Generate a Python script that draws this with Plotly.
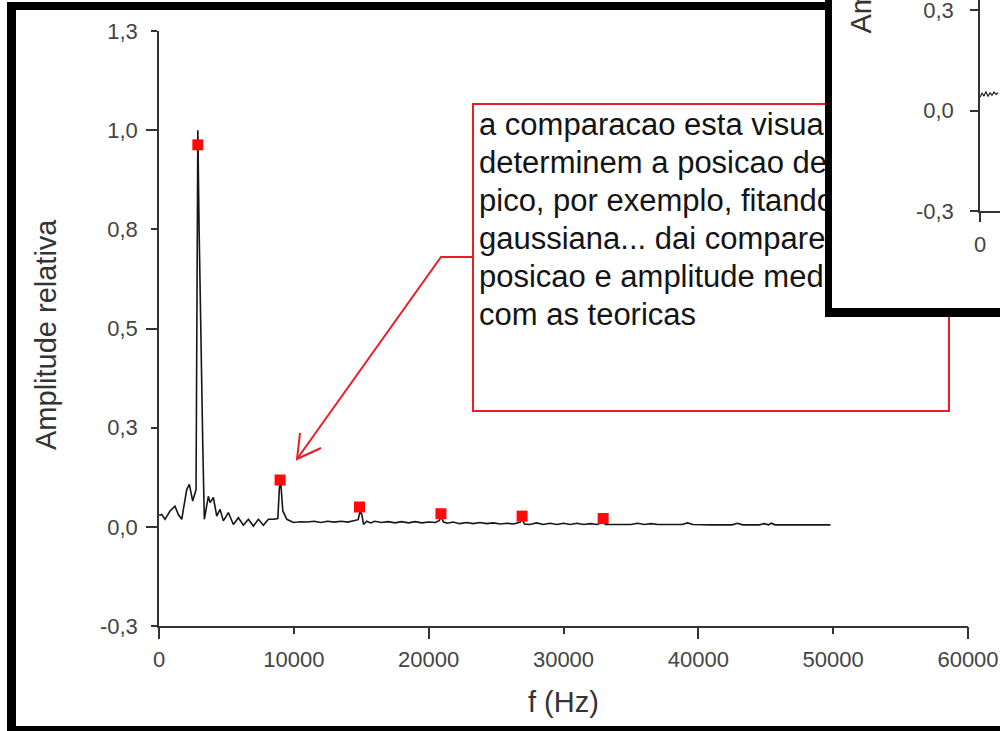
import plotly.graph_objects as go

W, H = 1000, 731

# ---- spectrum (frequency in Hz, relative amplitude) ----
freq_hz = [
    0, 200, 445, 817, 1188, 1433, 1685, 2056, 2250, 2500, 2747,
    2800, 2880, 2970, 3100, 3250, 3363, 3660, 3786, 4031, 4284,
    4529, 4774, 5145, 5516, 5887, 6258, 6630, 7001, 7372, 7743,
    8114, 8485, 8812, 8931, 9035, 9183, 9480, 9970, 10500, 11000,
    11500, 12000, 12500, 13000, 13500, 14000, 14500, 14770, 14920, 15050,
    15170, 15400, 15700, 16000, 16500, 17000, 17500, 18000, 18500, 19000,
    19500, 20000, 20500, 20800, 20920, 21100, 21400, 21800, 22300, 22800,
    23300, 23800, 24300, 24800, 25300, 25800, 26300, 26800, 26930, 27100,
    27500, 28000, 28500, 29000, 29500, 30000, 30500, 31000, 31500, 32000,
    32500, 32800, 32940, 33100, 34000, 35000, 35500, 36000, 36500, 37000,
    38000, 38800, 39200, 39600, 41000, 42500, 42900, 43300, 44500, 44900,
    45200, 45400, 45700, 47000, 49800,
]
amplitude = [
    0.029, 0.031, 0.019, 0.040, 0.052, 0.031, 0.019, 0.094, 0.107, 0.065, 0.094,
    0.590, 1.000, 0.760, 0.470, 0.200, 0.019, 0.077, 0.061, 0.074, 0.027,
    0.044, 0.015, 0.036, 0.006, 0.023, 0.004, 0.019, 0.002, 0.019, 0.004,
    0.019, 0.019, 0.021, 0.100, 0.110, 0.040, 0.019, 0.011, 0.013, 0.012,
    0.014, 0.011, 0.014, 0.012, 0.014, 0.012, 0.015, 0.018, 0.040, 0.030,
    0.006, 0.014, 0.010, 0.014, 0.011, 0.013, 0.010, 0.013, 0.010, 0.013,
    0.010, 0.012, 0.011, 0.016, 0.027, 0.012, 0.009, 0.012, 0.008, 0.011,
    0.008, 0.011, 0.008, 0.010, 0.007, 0.009, 0.007, 0.012, 0.020, 0.007,
    0.006, 0.010, 0.006, 0.009, 0.006, 0.009, 0.006, 0.009, 0.006, 0.008,
    0.006, 0.010, 0.016, 0.006, 0.006, 0.006, 0.009, 0.006, 0.008, 0.006,
    0.006, 0.006, 0.010, 0.006, 0.005, 0.005, 0.009, 0.005, 0.005, 0.008,
    0.005, 0.009, 0.005, 0.005, 0.005,
]

# ---- harmonic peaks (odd harmonics) ----
peak_freq_hz = [2880, 8980, 14870, 20910, 26930, 32940]
peak_amplitude = [0.963, 0.118, 0.050, 0.033, 0.027, 0.021]

# ---- axis ticks ----
y_tick_vals = [-0.25, 0.0, 0.25, 0.5, 0.75, 1.0, 1.25]
y_tick_text = ["-0,3", "0,0", "0,3", "0,5", "0,8", "1,0", "1,3"]
y_major_vals = [0.0, 0.5, 1.0]
x_tick_vals = [0, 10000, 20000, 30000, 40000, 50000, 60000]
x_tick_text = ["0", "10000", "20000", "30000", "40000", "50000", "60000"]
x_major_vals = [0, 20000, 40000, 60000]

# ---- second (partially hidden) chart in the corner ----
inset_x = [0, 60, 120, 180, 240, 300, 360, 420, 480, 540]
inset_amp = [0.033, 0.043, 0.036, 0.047, 0.035, 0.044, 0.038, 0.046, 0.040, 0.044]
inset_y_vals = [-0.25, 0.0, 0.25]
inset_y_text = ["-0,3", "0,0", "0,3"]

note_lines = [
    "a comparacao esta visual",
    "determinem a posicao de",
    "pico, por exemplo, fitando",
    "gaussiana... dai comparem",
    "posicao e amplitude medidas",
    "com as teoricas",
]

FONT = "Liberation Sans, Arial, sans-serif"
AXIS = "#333333"
RED = "#ec1c24"

# plot area in pixels
L, R, T, B = 159, 968, 31, 626
X_RANGE = [0, 60000]
Y_RANGE = [-0.25, 1.25]

# note layout (pixels)
NOTE_LEFT = 479
NOTE_FIRST_MID = 127
NOTE_STEP = 38


def fx(p):
    return p / W


def fy(p):
    return 1 - p / H


def data_x(p):
    return X_RANGE[0] + (p - L) / (R - L) * (X_RANGE[1] - X_RANGE[0])


def data_y(p):
    return Y_RANGE[1] - (p - T) / (B - T) * (Y_RANGE[1] - Y_RANGE[0])


fig = go.Figure()

fig.add_trace(go.Scatter(
    x=freq_hz, y=amplitude, mode="lines",
    line=dict(color="#161616", width=1.6),
    hoverinfo="skip", showlegend=False,
))
fig.add_trace(go.Scatter(
    x=peak_freq_hz, y=peak_amplitude, mode="markers",
    marker=dict(symbol="square", size=11, color="#ff0a0a"),
    hoverinfo="skip", showlegend=False,
))
# note text inside the red box, one line per point
fig.add_trace(go.Scatter(
    x=[data_x(NOTE_LEFT)] * len(note_lines),
    y=[data_y(NOTE_FIRST_MID + i * NOTE_STEP) for i in range(len(note_lines))],
    mode="text", text=note_lines, textposition="middle right",
    textfont=dict(family=FONT, size=31, color="#141414"),
    hoverinfo="skip", showlegend=False,
))
# corner panel background (white plot area covering the main chart)
fig.add_trace(go.Scatter(
    x=[0], y=[0], xaxis="x2", yaxis="y2", mode="markers",
    marker=dict(size=1, opacity=0), hoverinfo="skip", showlegend=False,
))
fig.add_trace(go.Scatter(
    x=inset_x, y=inset_amp, xaxis="x3", yaxis="y3", mode="lines",
    line=dict(color="#1e1e1e", width=1.2), hoverinfo="skip", showlegend=False,
))
# long ticks on the main axes
fig.add_trace(go.Scatter(
    x=[None], y=[None], xaxis="x4", yaxis="y4", mode="markers",
    hoverinfo="skip", showlegend=False,
))

axis_common = dict(
    showgrid=False, zeroline=False, showline=True, linecolor=AXIS, linewidth=1.5,
    ticks="outside", tickcolor=AXIS, tickwidth=1.5,
    tickfont=dict(family=FONT, size=22, color="#444444"),
    fixedrange=True, automargin=False, ticklabeloverflow="allow",
)
hidden_ticks = dict(
    ticks="outside", tickcolor=AXIS, tickwidth=1.5, showticklabels=False,
    showline=False, showgrid=False, zeroline=False, fixedrange=True,
    automargin=False,
)

fig.update_layout(
    width=W, height=H, autosize=False,
    margin=dict(l=0, r=0, t=0, b=0, pad=0),
    paper_bgcolor="white", plot_bgcolor="white",
    showlegend=False,
    xaxis=dict(
        domain=[fx(L), fx(R)], range=X_RANGE, anchor="y",
        tickmode="array", tickvals=x_tick_vals, ticktext=x_tick_text,
        ticklen=6, ticklabelstandoff=7, **axis_common,
    ),
    yaxis=dict(
        domain=[fy(B), fy(T)], range=Y_RANGE, anchor="x",
        tickmode="array", tickvals=y_tick_vals, ticktext=y_tick_text,
        ticklen=6, ticklabelstandoff=9, **axis_common,
    ),
    xaxis4=dict(
        overlaying="x", range=X_RANGE, anchor="y4", side="bottom",
        tickmode="array", tickvals=x_major_vals, ticklen=12, **hidden_ticks,
    ),
    yaxis4=dict(
        overlaying="y", range=Y_RANGE, anchor="x4", side="left",
        tickmode="array", tickvals=y_major_vals, ticklen=12, **hidden_ticks,
    ),
    xaxis2=dict(domain=[fx(825), 1.0], range=[0, 1], visible=False,
                anchor="y2", fixedrange=True, automargin=False),
    yaxis2=dict(domain=[fy(317), 1.0], range=[0, 1], visible=False,
                anchor="x2", fixedrange=True, automargin=False),
    xaxis3=dict(
        domain=[fx(980), 1.0], range=[0, 600], anchor="y3",
        tickmode="array", tickvals=[0], ticktext=["0"], ticklen=9,
        ticklabelstandoff=4, **axis_common,
    ),
    yaxis3=dict(
        domain=[fy(211), 1.0], range=[-0.25, 0.25 + 10 / 402],
        anchor="x3", tickmode="array", tickvals=inset_y_vals, ticktext=inset_y_text,
        ticklen=8, ticklabelstandoff=12, **axis_common,
    ),
)

shapes = []
# outer frame of the main chart (drawn under everything)
for x0, y0, x1, y1 in [(7, 2, 1005, 10), (7, 2, 16, 740), (7, 726, 1005, 740)]:
    shapes.append(dict(type="rect", xref="paper", yref="paper", layer="below",
                       x0=fx(x0), x1=fx(x1), y0=fy(y0), y1=fy(y1),
                       fillcolor="black", line=dict(width=0)))
# red note box and arrow
shapes.append(dict(type="rect", xref="paper", yref="paper", layer="below",
                   x0=fx(473), x1=fx(949), y0=fy(104), y1=fy(411),
                   line=dict(color=RED, width=2), fillcolor="rgba(0,0,0,0)"))


def path(points):
    return "M " + " L ".join(f"{fx(a):.5f},{fy(b):.5f}" for a, b in points)


shapes.append(dict(type="path", xref="paper", yref="paper", layer="below",
                   path=path([(473, 257), (441, 257), (297, 459)]),
                   line=dict(color=RED, width=2)))
shapes.append(dict(type="path", xref="paper", yref="paper", layer="below",
                   path=path([(300, 433), (297, 459), (321, 448)]),
                   line=dict(color=RED, width=2)))
# frame of the corner panel (on top)
for x0, y0, x1, y1 in [(825, -10, 832, 317), (825, 308, 1010, 317)]:
    shapes.append(dict(type="rect", xref="paper", yref="paper", layer="above",
                       x0=fx(x0), x1=fx(x1), y0=fy(y0), y1=fy(y1),
                       fillcolor="black", line=dict(width=0)))
fig.update_layout(shapes=shapes)

title_font = dict(family=FONT, size=29, color="#333333")
fig.add_annotation(x=fx(46), y=fy(335), xref="paper", yref="paper",
                   text="Amplitude relativa", textangle=-90, showarrow=False,
                   xanchor="center", yanchor="middle", font=title_font)
fig.add_annotation(x=fx(563), y=fy(702), xref="paper", yref="paper",
                   text="f (Hz)", showarrow=False,
                   xanchor="center", yanchor="middle", font=title_font)
fig.add_annotation(x=fx(861), y=fy(36), xref="paper", yref="paper",
                   text="Amplitude relativa", textangle=-90, showarrow=False,
                   xanchor="center", yanchor="bottom", font=title_font)

fig.write_html("out.html")
